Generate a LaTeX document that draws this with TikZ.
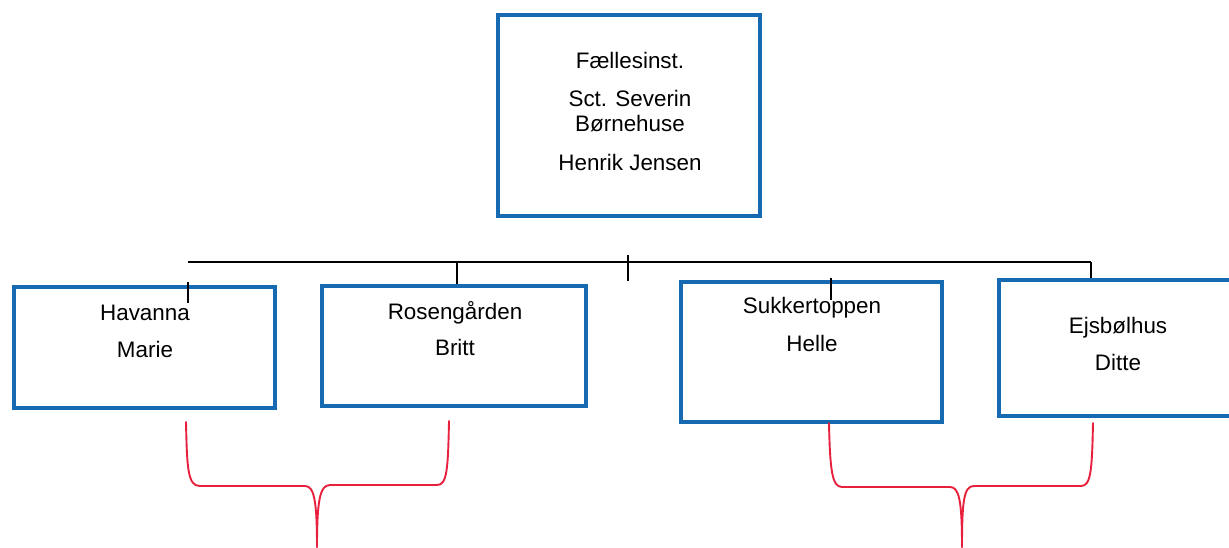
\documentclass[tikz,border=0pt]{standalone}
\usepackage{fontspec}
\setmainfont{Liberation Sans}
\definecolor{boxblue}{RGB}{22,106,178}
\definecolor{bracered}{RGB}{232,32,62}
\tikzset{
  orgbox/.style={draw=boxblue, line width=4.6pt, fill=white, inner sep=0pt, rectangle},
  lbl/.style={anchor=base, inner sep=0pt, font=\fontsize{22.4}{25}\selectfont},
  conn/.style={draw=black, line width=1.7pt},
  bracepath/.style={draw=bracered, line width=1.9pt, line cap=round, line join=round}
}
\begin{document}
\begin{tikzpicture}[x=1pt,y=-1pt]
\useasboundingbox (0,0) rectangle (1229,547);
\clip (0,0) rectangle (1229,547);
% boxes
\node[orgbox, minimum width=262pt, minimum height=201pt] (top) at (629,115.5) {};
\node[orgbox, minimum width=261pt, minimum height=121pt] (hav) at (144.5,347.5) {};
\node[orgbox, minimum width=264pt, minimum height=120pt] (ros) at (454,346) {};
\node[orgbox, minimum width=261pt, minimum height=140pt] (suk) at (811.5,352) {};
\node[orgbox, minimum width=241pt, minimum height=136pt] (ejs) at (1119.5,348) {};
% texts
\node[lbl] (t1) at (630,68) {Fællesinst.};
\node[lbl] (t2) at (630,106) {Sct. Severin};
\node[lbl] (t3) at (630,131) {Børnehuse};
\node[lbl] (t4) at (630,170) {Henrik Jensen};
\node[lbl] (h1) at (145,320) {Havanna};
\node[lbl] (h2) at (145,357) {Marie};
\node[lbl] (r1) at (455,319) {Rosengården};
\node[lbl] (r2) at (455,355) {Britt};
\node[lbl] (s1) at (812,313) {Sukkertoppen};
\node[lbl] (s2) at (812,351) {Helle};
\node[lbl] (e1) at (1118,333) {Ejsbølhus};
\node[lbl] (e2) at (1118,370) {Ditte};
% connectors
\coordinate (hl) at (188,262);
\coordinate (hr) at (1091,262);
\coordinate (rosv) at (457,262);
\coordinate (midt) at (628,255);
\coordinate (midb) at (628,281);
\coordinate (havt) at (188,282);
\coordinate (havb) at (188,303);
\coordinate (sukt) at (831,278);
\coordinate (sukb) at (831,300);
\draw[conn] (hl) -- (hr);
\draw[conn] (rosv) -- (rosv |- ros.north);
\draw[conn] (hr) -- (hr |- ejs.north);
\draw[conn] (midt) -- (midb);
\draw[conn] (havt) -- (havb);
\draw[conn] (sukt) -- (sukb);
% braces
\coordinate (lb1) at (186,422);
\coordinate (lb2) at (449,421);
\coordinate (lbtip) at (317,547);
\coordinate (rb1) at (829,423);
\coordinate (rb2) at (1093,423);
\coordinate (rbtip) at (962,547);
\draw[bracepath] (lb1) .. controls (187,470) and (188,486) .. (200,486) -- (305,486) .. controls (314,486) and (317,500) .. (lbtip);
\draw[bracepath] (lb2) .. controls (448,470) and (447,485) .. (437,485) -- (330,485) .. controls (320,485) and (317,500) .. (lbtip);
\draw[bracepath] (rb1) .. controls (830,470) and (832,487) .. (842,487) -- (950,487) .. controls (959,487) and (962,500) .. (rbtip);
\draw[bracepath] (rb2) .. controls (1092,470) and (1091,486) .. (1081,486) -- (974,486) .. controls (964,486) and (962,500) .. (rbtip);
\end{tikzpicture}
\end{document}
